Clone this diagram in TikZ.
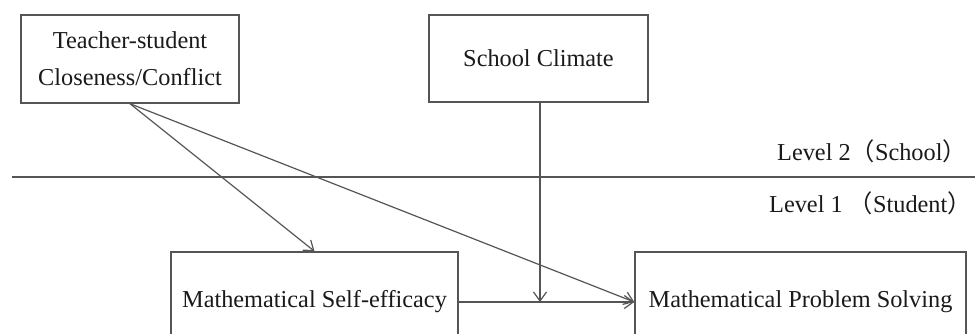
\documentclass[tikz,border=0pt]{standalone}
\usepackage{fontspec}
\setmainfont{Liberation Serif}
\newfontfamily\cjk{Noto Sans CJK SC}
\usetikzlibrary{arrows.meta,calc}
\definecolor{linegray}{HTML}{555555}
\definecolor{txt}{HTML}{1A1A1A}
\begin{document}
\begin{tikzpicture}[x=1pt,y=-1pt,
  box/.style={draw=linegray, line width=1.4pt, align=center, text=txt,
    font=\fontsize{24.3}{37}\selectfont, inner sep=0pt},
  conn/.style={draw=linegray, line width=1.2pt,
    -{Straight Barb[length=9pt,width=13pt,line width=1.2pt]}},
  lab/.style={font=\fontsize{24.3}{29}\selectfont, text=txt, anchor=base west, inner sep=0pt}]
\useasboundingbox (0,0) rectangle (975,333);
\clip (0,0) rectangle (975,333);
\fill[white] (0,0) rectangle (975,333);

\node[box, minimum width=218pt, minimum height=88pt] (tsc) at (130,59) {Teacher-student\\Closeness/Conflict};
\node[box, minimum width=219pt, minimum height=87pt] (sc) at (538.5,58.5) {School Climate};
\node[box, minimum width=287pt, minimum height=100pt] (mse) at (314.5,302) {\raisebox{3pt}{Mathematical Self-efficacy}};
\node[box, minimum width=331pt, minimum height=100pt] (mps) at (800.5,302) {\raisebox{6pt}{Mathematical Problem Solving}};

\coordinate (l0) at (12,177);
\coordinate (l1) at (975,177);
\draw[draw=linegray, line width=1.4pt] (l0) -- (l1);

\node[lab] (lv2) at (777,160) {Level 2{\cjk （}School{\cjk ）}};
\node[lab] (lv1) at (769,212) {Level 1 {\cjk （}Student{\cjk ）}};

\coordinate (mod) at (540,302);
\draw[conn] (tsc.south) -- (mse.north);
\draw[conn] (tsc.south) -- (mps.west);
\draw[conn] (mse.east) -- (mps.west);
\draw[conn] (sc.south -| mod) -- (mod);
\end{tikzpicture}
\end{document}
